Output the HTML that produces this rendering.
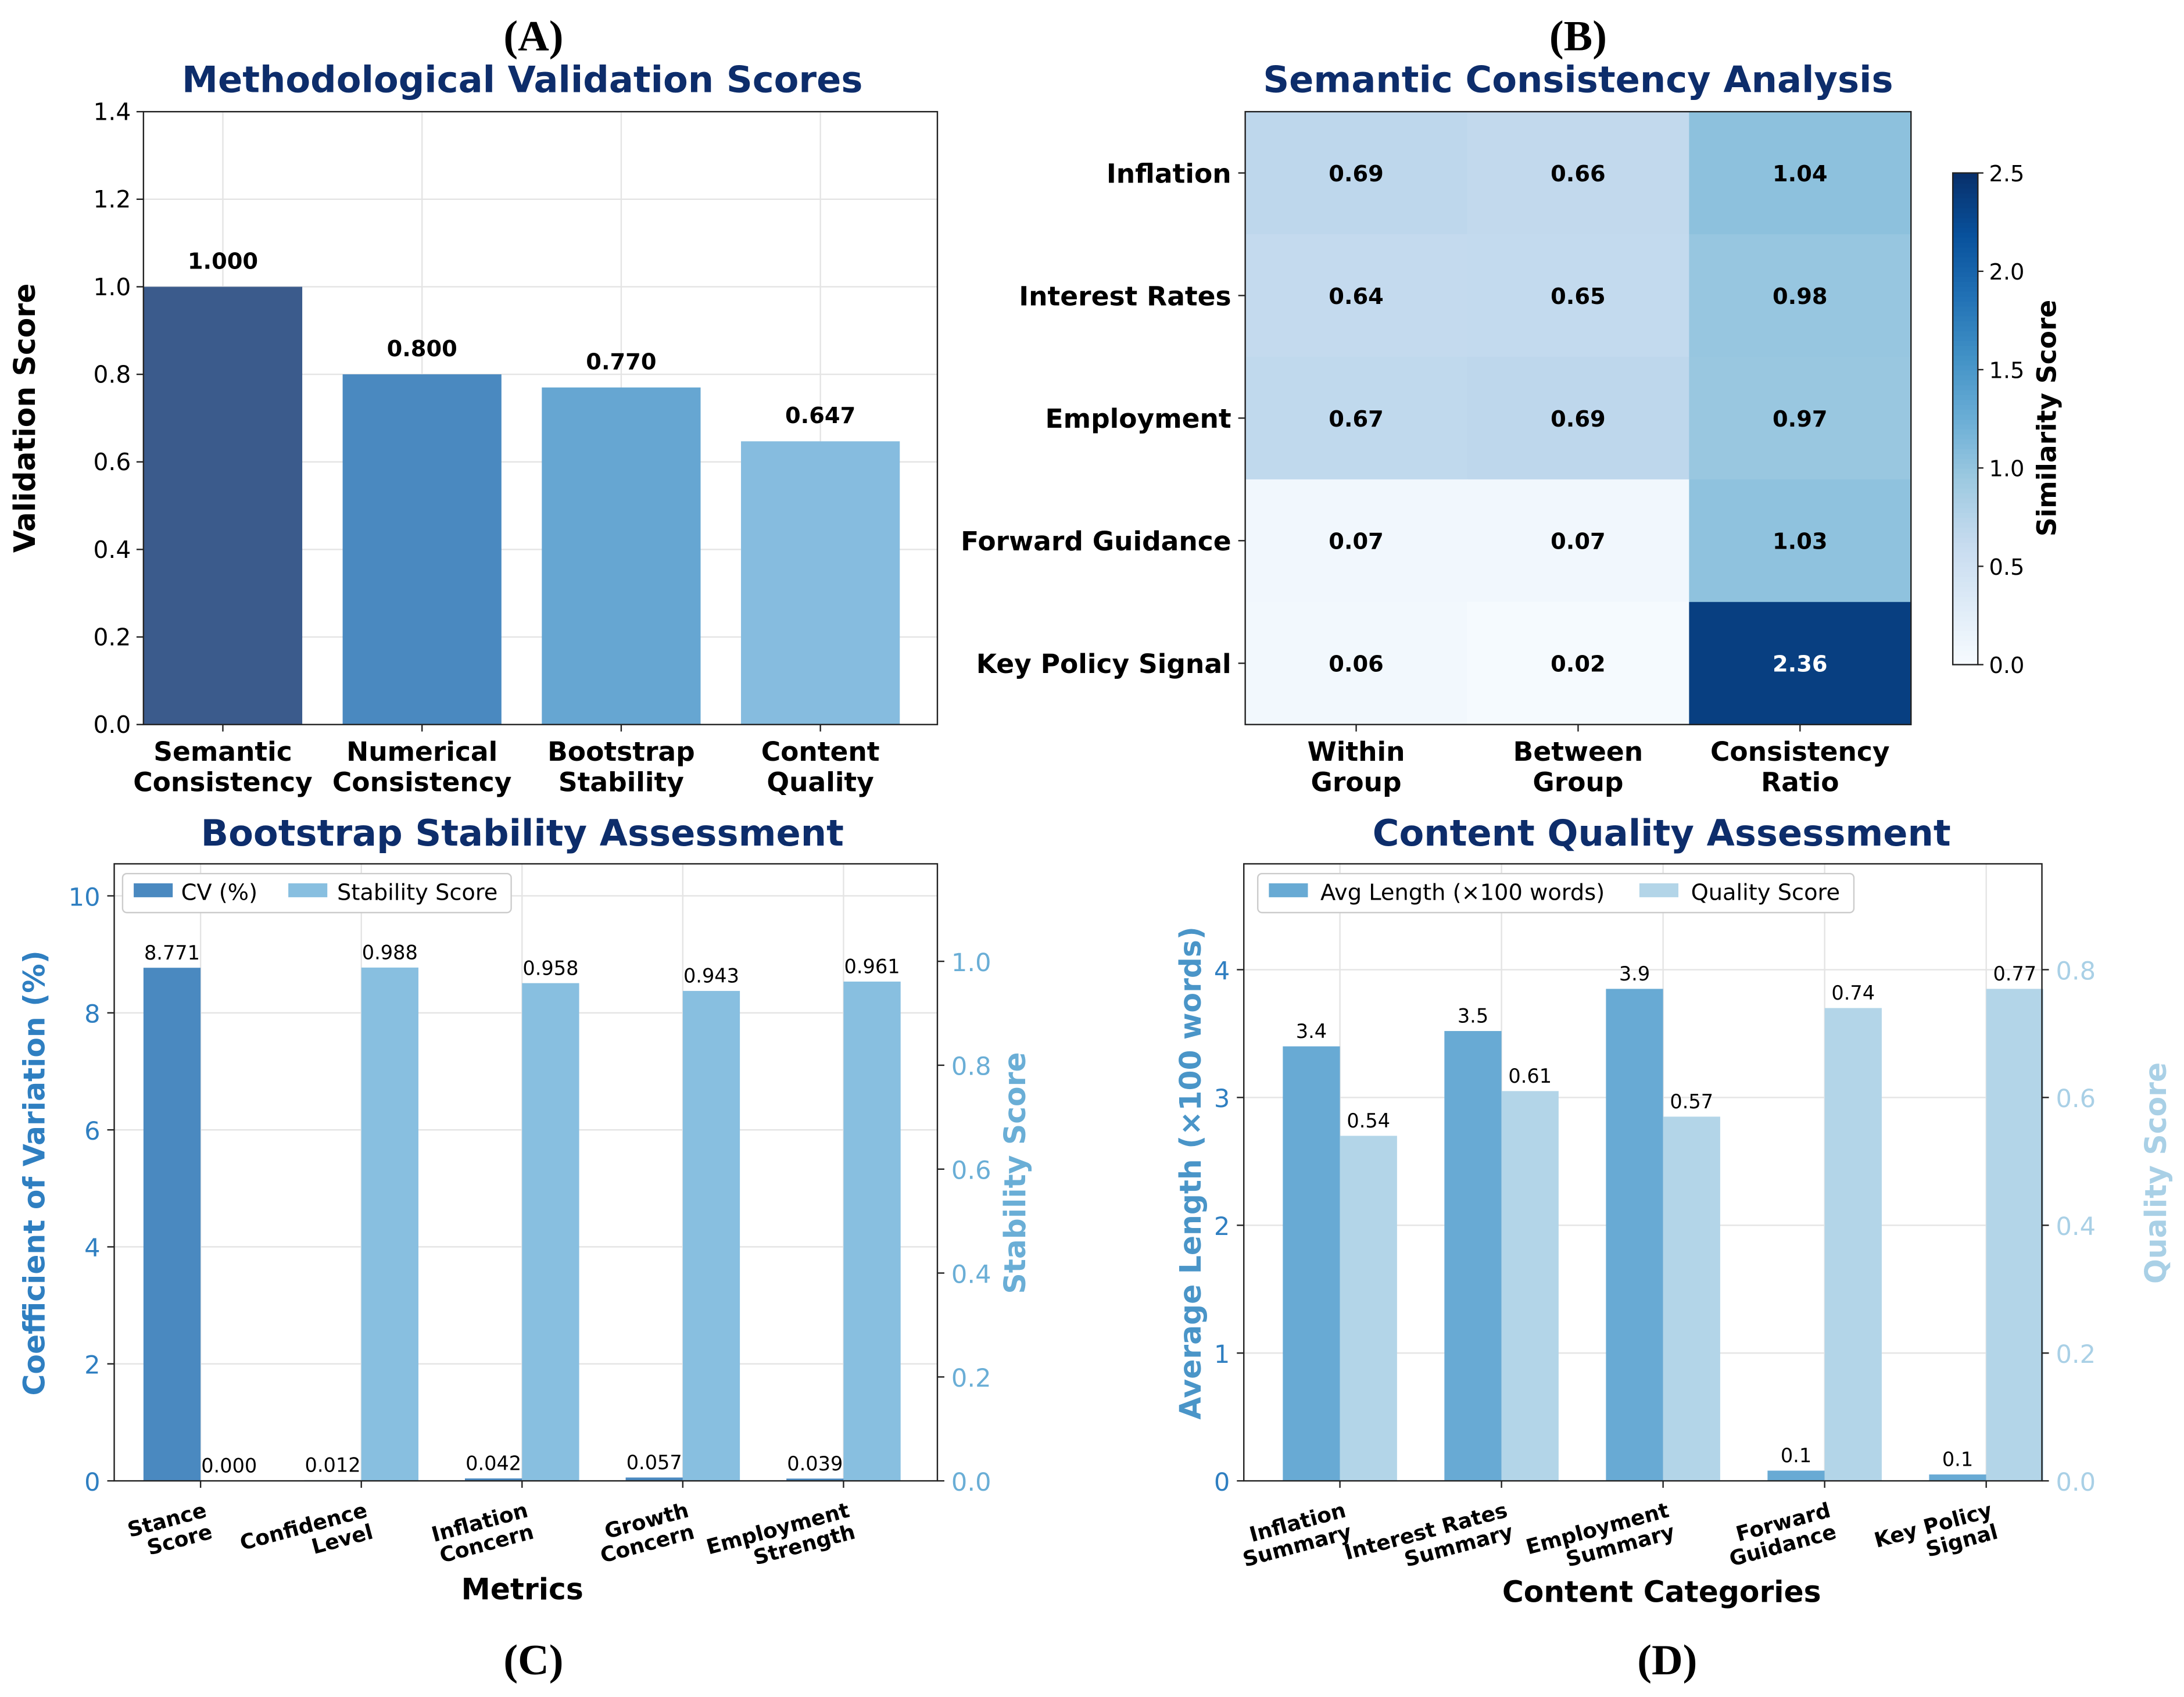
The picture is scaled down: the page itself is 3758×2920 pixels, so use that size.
<!DOCTYPE html>
<html><head><meta charset="utf-8"><style>
html,body{margin:0;padding:0;background:#fff}
svg{display:block}
</style></head><body>
<svg id="fig" xmlns="http://www.w3.org/2000/svg" width="3758" height="2920" viewBox="0 0 1568 1218"></svg>
<script>
// Panel A data
const aCategories = ["Semantic|Consistency","Numerical|Consistency","Bootstrap|Stability","Content|Quality"];
const aValues = [1.000, 0.800, 0.770, 0.647];
const aLabels = ["1.000","0.800","0.770","0.647"];
const aTicks = [0,0.2,0.4,0.6,0.8,1.0,1.2,1.4];
// Panel B data
const bRows = ["Inflation","Interest Rates","Employment","Forward Guidance","Key Policy Signal"];
const bCols = ["Within|Group","Between|Group","Consistency|Ratio"];
const bValues = [[0.69,0.66,1.04],[0.64,0.65,0.98],[0.67,0.69,0.97],[0.07,0.07,1.03],[0.06,0.02,2.36]];
const bCbarTicks = [0,0.5,1.0,1.5,2.0,2.5];
// Panel C data
const cCategories = ["Stance|Score","Confidence|Level","Inflation|Concern","Growth|Concern","Employment|Strength"];
const cCV = [8.771,0.012,0.042,0.057,0.039];
const cStab = [0.000,0.988,0.958,0.943,0.961];
const cLeftTicks = [0,2,4,6,8,10];
const cRightTicks = [0,0.2,0.4,0.6,0.8,1.0];
// Panel D data
const dCategories = ["Inflation|Summary","Interest Rates|Summary","Employment|Summary","Forward|Guidance","Key Policy|Signal"];
const dLen = [3.4,3.52,3.85,0.08,0.05];
const dLenLabels = ["3.4","3.5","3.9","0.1","0.1"];
const dQual = [0.54,0.61,0.57,0.74,0.77];
const dLeftTicks = [0,1,2,3,4];
const dRightTicks = [0,0.2,0.4,0.6,0.8];

const svg = document.getElementById('fig');
const NS = "http://www.w3.org/2000/svg";
const sans = '"DejaVu Sans","Liberation Sans",sans-serif';
const serif = '"Liberation Serif","DejaVu Serif",serif';
function el(tag, attrs, parent, txt){
  const e = document.createElementNS(NS, tag);
  for (const k in attrs) e.setAttribute(k, attrs[k]);
  if (txt !== undefined) e.textContent = txt;
  (parent||svg).appendChild(e);
  return e;
}
function txt(x,y,s,size,opts){
  opts = opts||{};
  const t = el('text',{x:x,y:y,'font-size':size,'text-anchor':opts.anchor||'middle',fill:opts.fill||'#000','font-weight':opts.weight||'normal','font-family':opts.family||sans},opts.parent,s);
  if(opts.rot!==undefined) t.setAttribute('transform',`rotate(${opts.rot} ${x} ${y})`);
  
  
  return t;
}
function frame(x0,y0,x1,y1,name){
  const r = el('rect',{x:x0,y:y0,width:x1-x0,height:y1-y0,fill:'none',stroke:'#222','stroke-width':1});
  
  
}
function grid(x0,x1,y,name){
  const l = el('line',{x1:x0,x2:x1,y1:y,y2:y,stroke:'#e4e4e4','stroke-width':1});
  
  
}
function vgrid(x,y0,y1){
  const l = el('line',{x1:x,x2:x,y1:y0,y2:y1,stroke:'#e4e4e4','stroke-width':1});
  
  
}
function bar(x,w,yTop,yBase,fill,name){
  const r = el('rect',{x:x,y:Math.min(yTop,yBase),width:w,height:Math.abs(yBase-yTop),fill:fill});
  
  
}
const titleColor = '#0d2d6b';
function rotLabel(cx,y0,lines,name){
  const g=el('g',{transform:`translate(${cx+2},${y0}) rotate(-15)`});
  
  
  txt(0,12,lines[0],15,{anchor:'end',weight:'bold',parent:g,name:name+'-line'});
  txt(0,28,lines[1],15,{anchor:'end',weight:'bold',parent:g,name:name+'-line'});
}

// ---------- Panel A ----------
(function(){
  const X0=103,X1=673,Y0=80,Y1=520,vmax=1.4;
  const y = v => Y1-(v/vmax)*(Y1-Y0);
  const slot=143, off=57, bw=114;
  const colors=['#3b5b8c','#4a89c0','#66a6d2','#86bcdf'];
  txt(383,36,'(A)',31,{family:serif,weight:'bold',name:'panel-a-letter'});
  txt(375,66,'Methodological Validation Scores',26,{fill:titleColor,weight:'bold',name:'panel-a-title'});
  aTicks.forEach(t=>{grid(X0,X1,y(t),'a-grid');
    el('line',{x1:X0-5,x2:X0,y1:y(t),y2:y(t),stroke:'#222'});
    txt(X0-9,y(t)+6,t.toFixed(1),17,{anchor:'end',name:'a-y-tick'});});
  aCategories.forEach((c,i)=>vgrid(X0+off+slot*i,Y0,Y1));
  aValues.forEach((v,i)=>{
    const cx=X0+off+slot*i;
    bar(cx-bw/2,bw,y(v),Y1,colors[i],'a-bar-'+i);
    txt(cx,y(v)-13,aLabels[i],16,{weight:'bold',name:'a-bar-value'});
    const p=aCategories[i].split('|');
    el('line',{x1:cx,x2:cx,y1:Y1,y2:Y1+5,stroke:'#222'});
    txt(cx,Y1+26,p[0],19,{weight:'bold',name:'a-x-tick'});
    txt(cx,Y1+48,p[1],19,{weight:'bold',name:'a-x-tick'});
  });
  frame(X0,Y0,X1,Y1,'panel-a-axes');
  txt(25,300,'Validation Score',21,{weight:'bold',rot:-90,name:'a-y-axis-title'});
})();

// ---------- Panel B ----------
(function(){
  const X0=894,X1=1372,Y0=80,Y1=520;
  const stops=[[247,251,255],[222,235,247],[198,219,239],[158,202,225],[107,174,214],[66,146,198],[33,113,181],[8,81,156],[8,48,107]];
  function cmap(v){let t=Math.max(0,Math.min(1,v/2.5))*8;const i=Math.min(7,Math.floor(t)),f=t-i;
    const c=stops[i].map((a,k)=>Math.round(a+(stops[i+1][k]-a)*f));
    return `rgb(${c[0]},${c[1]},${c[2]})`;}
  txt(1133,36,'(B)',31,{family:serif,weight:'bold',name:'panel-b-letter'});
  txt(1133,66,'Semantic Consistency Analysis',26,{fill:titleColor,weight:'bold',name:'panel-b-title'});
  const cw=(X1-X0)/bCols.length, rh=(Y1-Y0)/bRows.length;
  bValues.forEach((row,r)=>row.forEach((v,c)=>{
    const cell=el('rect',{x:X0+c*cw,y:Y0+r*rh,width:cw+0.5,height:rh+0.5,fill:cmap(v)});
    
    
    txt(X0+c*cw+cw/2,Y0+r*rh+rh/2+6,v.toFixed(2),16,{weight:'bold',fill:v>1.6?'#fff':'#000',name:'cell-value'});
  }));
  bRows.forEach((n,r)=>{const yy=Y0+r*rh+rh/2;
    el('line',{x1:X0-5,x2:X0,y1:yy,y2:yy,stroke:'#222'});
    txt(X0-10,yy+7,n,19,{anchor:'end',weight:'bold',name:'b-row-label'});});
  bCols.forEach((n,c)=>{const xx=X0+c*cw+cw/2;const p=n.split('|');
    el('line',{x1:xx,x2:xx,y1:Y1,y2:Y1+5,stroke:'#222'});
    txt(xx,Y1+26,p[0],19,{weight:'bold',name:'b-col-label'});
    txt(xx,Y1+48,p[1],19,{weight:'bold',name:'b-col-label'});});
  frame(X0,Y0,X1,Y1,'panel-b-axes');
  const CX=1402,CW=18,CY0=124,CY1=477;
  for(let i=0;i<100;i++){
    const v0=2.5*i/100;
    const r=el('rect',{x:CX,y:CY1-(i+1)*(CY1-CY0)/100,width:CW,height:(CY1-CY0)/100+0.6,fill:cmap(v0+0.0125)});
    
    
  }
  frame(CX,CY0,CX+CW,CY1,'colorbar');
  bCbarTicks.forEach(t=>{const yy=CY1-(t/2.5)*(CY1-CY0);
    el('line',{x1:CX+CW,x2:CX+CW+4,y1:yy,y2:yy,stroke:'#222'});
    txt(CX+CW+8,yy+6,t.toFixed(1),16,{anchor:'start',name:'colorbar-tick'});});
  txt(1476,300,'Similarity Score',19,{weight:'bold',rot:-90,name:'colorbar-title'});
})();

// ---------- Panel C ----------
(function(){
  const X0=82,X1=673,Y0=620,Y1=1063;
  const yl=v=>Y1-v*42, yr=v=>Y1-v*373;
  const g0=144, gs=115.4, bw=41;
  txt(383,1202,'(C)',31,{family:serif,weight:'bold',name:'panel-c-letter'});
  txt(375,607,'Bootstrap Stability Assessment',26,{fill:titleColor,weight:'bold',name:'panel-c-title'});
  cLeftTicks.forEach(t=>{grid(X0,X1,yl(t),'c-grid');
    el('line',{x1:X0-5,x2:X0,y1:yl(t),y2:yl(t),stroke:'#222'});
    txt(X0-10,yl(t)+7,String(t),18,{anchor:'end',fill:'#2f7fc1',name:'c-left-tick'});});
  cCategories.forEach((c,i)=>vgrid(g0+gs*i,Y0,Y1));
  cCV.forEach((v,i)=>{const cx=g0+gs*i;
    bar(cx-bw,bw,yl(v),Y1,'#4a89c0','c-cv-bar-'+i);
    txt(cx-bw/2,yl(v)-6,v.toFixed(3),14,{name:'c-cv-value'});
    bar(cx,bw,yr(cStab[i]),Y1,'#88bfe0','c-stab-bar-'+i);
    txt(cx+bw/2,yr(cStab[i])-6,cStab[i].toFixed(3),14,{name:'c-stab-value'});
    el('line',{x1:cx,x2:cx,y1:Y1,y2:Y1+5,stroke:'#222'});
    rotLabel(cx,Y1+14,cCategories[i].split('|'),'c-x-tick');
  });
  cRightTicks.forEach(t=>{el('line',{x1:X1,x2:X1+5,y1:yr(t),y2:yr(t),stroke:'#222'});
    txt(X1+10,yr(t)+7,t.toFixed(1),18,{anchor:'start',fill:'#6aaed6',name:'c-right-tick'});});
  frame(X0,Y0,X1,Y1,'panel-c-axes');
  txt(32,842,'Coefficient of Variation (%)',21,{weight:'bold',fill:'#2f7fc1',rot:-90,name:'c-left-axis-title'});
  txt(736,842,'Stability Score',21,{weight:'bold',fill:'#6aaed6',rot:-90,name:'c-right-axis-title'});
  txt(375,1148,'Metrics',21,{weight:'bold',name:'c-x-axis-title'});
  const lg=el('rect',{x:88,y:627,width:279,height:28,fill:'#fff',stroke:'#ccc',rx:3});
  
  bar(96,28,634,644,'#4a89c0','legend-cv-swatch');
  txt(130,646,'CV (%)',16,{anchor:'start',name:'legend-cv-label'});
  bar(207,28,634,644,'#88bfe0','legend-stab-swatch');
  txt(242,646,'Stability Score',16,{anchor:'start',name:'legend-stab-label'});
})();

// ---------- Panel D ----------
(function(){
  const X0=893,X1=1466,Y0=620,Y1=1063;
  const yl=v=>Y1-v*91.75, yr=v=>Y1-v*458.75;
  const g0=962, gs=116, bw=41;
  txt(1197,1202,'(D)',31,{family:serif,weight:'bold',name:'panel-d-letter'});
  txt(1193,607,'Content Quality Assessment',26,{fill:titleColor,weight:'bold',name:'panel-d-title'});
  dLeftTicks.forEach(t=>{grid(X0,X1,yl(t),'d-grid');
    el('line',{x1:X0-5,x2:X0,y1:yl(t),y2:yl(t),stroke:'#222'});
    txt(X0-10,yl(t)+7,String(t),18,{anchor:'end',fill:'#2f7fc1',name:'d-left-tick'});});
  dCategories.forEach((c,i)=>vgrid(g0+gs*i,Y0,Y1));
  dLen.forEach((v,i)=>{const cx=g0+gs*i;
    bar(cx-bw,bw,yl(v),Y1,'#68aad4','d-len-bar-'+i);
    txt(cx-bw/2,yl(v)-6,dLenLabels[i],14,{name:'d-len-value'});
    bar(cx,bw,yr(dQual[i]),Y1,'#b3d5e8','d-qual-bar-'+i);
    txt(cx+bw/2,yr(dQual[i])-6,dQual[i].toFixed(2),14,{name:'d-qual-value'});
    el('line',{x1:cx,x2:cx,y1:Y1,y2:Y1+5,stroke:'#222'});
    rotLabel(cx,Y1+14,dCategories[i].split('|'),'d-x-tick');
  });
  dRightTicks.forEach(t=>{el('line',{x1:X1,x2:X1+5,y1:yr(t),y2:yr(t),stroke:'#222'});
    txt(X1+10,yr(t)+7,t.toFixed(1),18,{anchor:'start',fill:'#a9d0e6',name:'d-right-tick'});});
  frame(X0,Y0,X1,Y1,'panel-d-axes');
  txt(862,842,'Average Length (×100 words)',21,{weight:'bold',fill:'#4a95c8',rot:-90,name:'d-left-axis-title'});
  txt(1555,842,'Quality Score',21,{weight:'bold',fill:'#a9d0e6',rot:-90,name:'d-right-axis-title'});
  txt(1193,1150,'Content Categories',21,{weight:'bold',name:'d-x-axis-title'});
  const lg=el('rect',{x:903,y:627,width:428,height:28,fill:'#fff',stroke:'#ccc',rx:3});
  
  bar(911,28,634,644,'#68aad4','legend-len-swatch');
  txt(948,646,'Avg Length (×100 words)',16,{anchor:'start',name:'legend-len-label'});
  bar(1177,28,634,644,'#b3d5e8','legend-qual-swatch');
  txt(1214,646,'Quality Score',16,{anchor:'start',name:'legend-qual-label'});
})();
</script>
</body></html>
